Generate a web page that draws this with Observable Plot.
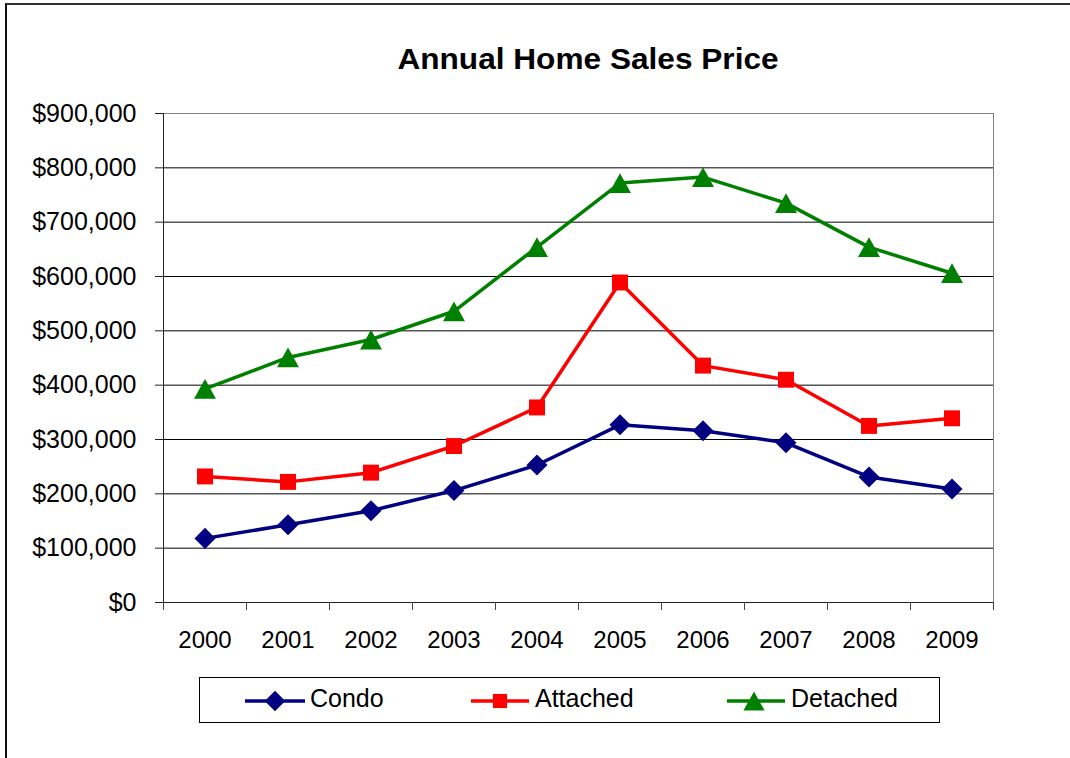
<!DOCTYPE html>
<html>
<head>
<meta charset="utf-8">
<script src="https://cdn.jsdelivr.net/npm/d3@7"></script>
<script src="https://cdn.jsdelivr.net/npm/@observablehq/plot@0.6"></script>
<style>
  body { margin: 0; background: #fff; }
  #wrap { position: relative; width: 1070px; height: 758px; overflow: hidden; font-family: "Liberation Sans", Arial, sans-serif; background: #fff; }
  #frame { position: absolute; left: 5px; top: 3px; width: 1100px; height: 800px; border-left: 2px solid #111; border-top: 2px solid #333; box-sizing: border-box; }
  #chart { position: absolute; left: 0; top: 0; }
  #title { position: absolute; left: 588px; top: 44px; transform: translateX(-50%) scaleX(1.09); font-size: 29px; font-weight: bold; line-height: 30px; white-space: nowrap; color: #000; }
  #legend { position: absolute; left: 199px; top: 677px; }
</style>
</head>
<body>
<div id="wrap">
  <div id="frame"></div>
  <div id="chart"></div>
  <div id="title">Annual Home Sales Price</div>
  <div id="legend"></div>
</div>
<script>
// ---- Data ----
const years = [2000, 2001, 2002, 2003, 2004, 2005, 2006, 2007, 2008, 2009];
const condo    = [118000, 143000, 169000, 206000, 253000, 327000, 316000, 294000, 231000, 209000];
const attached = [232000, 222000, 239000, 288000, 359000, 589000, 436000, 410000, 325000, 339000];
const detached = [393000, 451000, 484000, 536000, 654000, 772000, 783000, 735000, 654000, 606000];
const seriesNames = ["Condo", "Attached", "Detached"];
const seriesColors = ["#000080", "#FF0000", "#008000"];
const yTicks = [0, 100000, 200000, 300000, 400000, 500000, 600000, 700000, 800000, 900000];

// ---- Custom marker symbols (Excel-like) ----
const diamondSym = { draw(ctx, size) { const h = Math.sqrt(size / 2); ctx.moveTo(0, -h); ctx.lineTo(h, 0); ctx.lineTo(0, h); ctx.lineTo(-h, 0); ctx.closePath(); } };
const squareSym = { draw(ctx, size) { const s = Math.sqrt(size) / 2; ctx.moveTo(-s, -s); ctx.lineTo(s, -s); ctx.lineTo(s, s); ctx.lineTo(-s, s); ctx.closePath(); } };
const triangleSym = { draw(ctx, size) { const w = Math.sqrt(size / 0.45), h = 0.9 * w; ctx.moveTo(0, -h / 2); ctx.lineTo(w / 2, h / 2); ctx.lineTo(-w / 2, h / 2); ctx.closePath(); } };
const symbols = [diamondSym, squareSym, triangleSym];
const radii = [8.4, 9.0, 8.3];

const valuesBySeries = [condo, attached, detached];
const rows = [];
seriesNames.forEach((s, i) => years.forEach((yr, j) => rows.push({ series: s, year: yr, value: valuesBySeries[i][j] })));

const xBounds = years.map(y => y - 0.5).concat([years[years.length - 1] + 0.5]);
const fmtMoney = d => "$" + d3.format(",")(d);

const marks = [
  Plot.gridY({ ticks: yTicks.filter(d => d > 0 && d < 900000), stroke: "#000", strokeOpacity: 1 }),
  Plot.frame({ stroke: "#808080" }),
  Plot.ruleX([xBounds[0]], { stroke: "#222" }),
  Plot.ruleY([0], { stroke: "#222" }),
  Plot.axisY({ ticks: yTicks, tickSize: 8, tickPadding: 19, tickFormat: fmtMoney, fontSize: 25, stroke: "#222", label: null }),
  Plot.axisX({ ticks: xBounds, tickSize: 8, tickFormat: () => "", stroke: "#444", label: null }),
  Plot.axisX({ ticks: years, tickSize: 0, tickPadding: 28, tickFormat: d => String(d), fontSize: 24, label: null })
];
seriesNames.forEach((s, i) => {
  const d = rows.filter(r => r.series === s);
  marks.push(Plot.line(d, { x: "year", y: "value", stroke: seriesColors[i], strokeWidth: 3.5 }));
});
seriesNames.forEach((s, i) => {
  const d = rows.filter(r => r.series === s);
  marks.push(Plot.dot(d, { x: "year", y: "value", symbol: symbols[i], r: radii[i], fill: seriesColors[i], stroke: "none" }));
});

const chart = Plot.plot({
  width: 1070,
  height: 758,
  marginLeft: 163,
  marginRight: 77,
  marginTop: 113,
  marginBottom: 156,
  x: { type: "linear", domain: [xBounds[0], xBounds[xBounds.length - 1]], label: null },
  y: { domain: [0, 900000], label: null },
  style: { fontFamily: "'Liberation Sans', Arial, sans-serif", fontSize: "24px", background: "none", color: "#000", overflow: "visible" },
  marks
});
document.getElementById("chart").appendChild(chart);

// ---- Legend ----
const legendPos = [
  { line: [46, 106], marker: 76, text: 111, r: 8.2 },
  { line: [272, 330], marker: 301, text: 336, r: 8.0 },
  { line: [528, 586], marker: 555, text: 592, r: 8.0 }
];
const lg = d3.select("#legend").append("svg").attr("width", 742).attr("height", 47);
lg.append("rect").attr("x", 0.5).attr("y", 0.5).attr("width", 740).attr("height", 45).attr("fill", "#fff").attr("stroke", "#000");
seriesNames.forEach((s, i) => {
  const p = legendPos[i];
  lg.append("line").attr("x1", p.line[0]).attr("x2", p.line[1]).attr("y1", 24).attr("y2", 24)
    .attr("stroke", seriesColors[i]).attr("stroke-width", 3.5);
  lg.append("path").attr("d", d3.symbol(symbols[i], Math.PI * p.r * p.r)())
    .attr("transform", `translate(${p.marker},24)`).attr("fill", seriesColors[i]);
  lg.append("text").attr("x", p.text).attr("y", 30).attr("font-size", 25)
    .attr("font-family", "'Liberation Sans', Arial, sans-serif").attr("fill", "#000").text(s);
});
</script>
</body>
</html>
